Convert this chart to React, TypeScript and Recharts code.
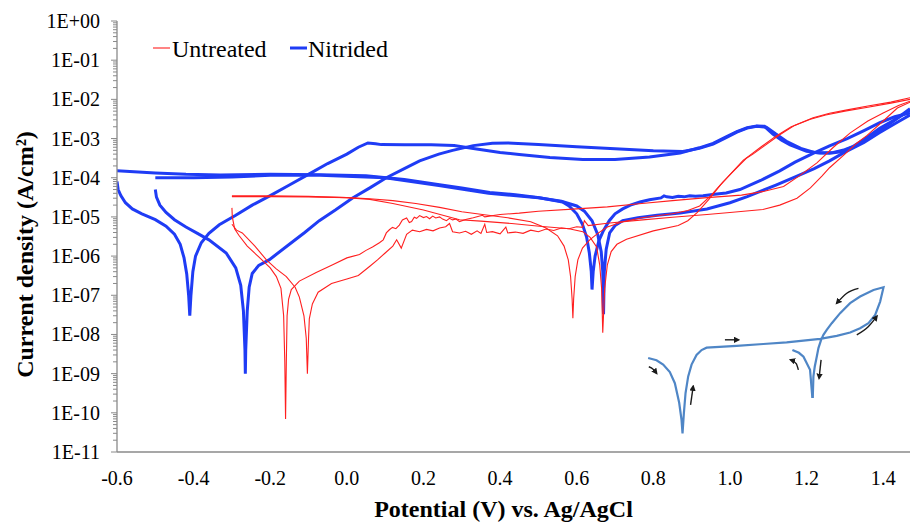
import { Label, Line, LineChart, XAxis, YAxis } from "recharts";

type P = [number, number];

const xTicks = [-0.6, -0.4, -0.2, 0.0, 0.2, 0.4, 0.6, 0.8, 1.0, 1.2, 1.4];
const yDecades = [1e-11, 1e-10, 1e-9, 1e-8, 1e-7, 1e-6, 1e-5, 1e-4, 1e-3, 1e-2, 1e-1, 1];
const yMinor = yDecades
  .slice(0, -1)
  .flatMap((d) => [2, 3, 4, 5, 6, 7, 8, 9].map((m) => m * d));
const yTicks = [...yDecades, ...yMinor].sort((a, b) => a - b);

// Nitrided, forward scans
const nitridedFwdA: P[] = [
  [-0.6, 8e-5], [-0.597, 5e-5], [-0.59, 3.5e-5], [-0.578, 2.3e-5], [-0.56, 1.6e-5],
  [-0.535, 1.2e-5], [-0.5, 8.5e-6], [-0.472, 5.8e-6], [-0.45, 3.6e-6], [-0.435, 2e-6],
  [-0.425, 9e-7], [-0.418, 3.5e-7], [-0.413, 1e-7], [-0.41, 3e-8], [-0.407, 1e-7],
  [-0.402, 4e-7], [-0.395, 1e-6], [-0.38, 2.2e-6], [-0.36, 3.8e-6], [-0.333, 6.3e-6],
  [-0.29, 1.1e-5], [-0.247, 2e-5], [-0.2, 3.5e-5], [-0.15, 6.5e-5], [-0.098, 1.25e-4],
  [-0.05, 2.3e-4], [0.0, 4e-4], [0.03, 6e-4], [0.055, 7.7e-4], [0.075, 7.4e-4],
  [0.09, 7e-4], [0.15, 6.9e-4], [0.22, 6.9e-4], [0.28, 6.6e-4], [0.33, 5.6e-4],
  [0.4, 4.4e-4], [0.45, 3.9e-4], [0.53, 3.3e-4], [0.616, 2.9e-4], [0.7, 2.9e-4],
  [0.79, 3.4e-4], [0.87, 4.3e-4], [0.92, 5.8e-4], [0.956, 7.5e-4], [0.99, 1.1e-3],
  [1.018, 1.5e-3], [1.045, 1.9e-3], [1.07, 2.1e-3], [1.09, 2.05e-3], [1.112, 1.3e-3],
  [1.135, 9e-4], [1.157, 6.9e-4], [1.2, 4.7e-4], [1.235, 4.3e-4], [1.27, 4.4e-4],
  [1.3, 5.2e-4], [1.32, 6.2e-4], [1.35, 9.5e-4], [1.39, 1.8e-3], [1.43, 3e-3], [1.47, 5.3e-3],
];
const nitridedFwdB: P[] = [
  [-0.5, 5e-5], [-0.497, 3.2e-5], [-0.488, 2e-5], [-0.472, 1.3e-5], [-0.45, 8.5e-6],
  [-0.42, 5.5e-6], [-0.39, 3.8e-6], [-0.36, 2.6e-6], [-0.315, 1.2e-6], [-0.29, 5e-7],
  [-0.277, 1.8e-7], [-0.27, 4e-8], [-0.266, 4e-9], [-0.265, 1e-9], [-0.264, 4e-9],
  [-0.26, 4e-8], [-0.255, 1.6e-7], [-0.247, 3.6e-7], [-0.23, 5.8e-7], [-0.203, 8e-7],
  [-0.15, 2e-6], [-0.11, 4e-6], [-0.072, 8e-6], [-0.03, 1.5e-5], [0.014, 3e-5],
  [0.06, 5.5e-5], [0.103, 1e-4], [0.15, 1.7e-4], [0.19, 2.7e-4], [0.24, 4e-4],
  [0.276, 5e-4], [0.33, 6.6e-4], [0.38, 7.6e-4], [0.42, 7.7e-4], [0.5, 7e-4],
  [0.6, 6.2e-4], [0.7, 5.5e-4], [0.8, 4.9e-4], [0.877, 4.7e-4], [0.92, 5.6e-4],
  [0.956, 7.2e-4], [0.99, 1.05e-3], [1.018, 1.45e-3], [1.045, 1.85e-3], [1.07, 2.05e-3],
  [1.095, 1.95e-3], [1.12, 1.3e-3], [1.15, 8.2e-4], [1.185, 5.6e-4], [1.22, 4.4e-4],
  [1.26, 4.2e-4], [1.29, 4.6e-4], [1.33, 6.6e-4], [1.37, 1.2e-3], [1.42, 2.5e-3], [1.47, 5.8e-3],
];

// Nitrided, reverse scans
const nitridedRevA: P[] = [
  [1.47, 4.5e-3], [1.43, 3.6e-3], [1.39, 2.5e-3], [1.35, 1.6e-3], [1.306, 1e-3],
  [1.26, 6.5e-4], [1.217, 4.2e-4], [1.17, 2.5e-4], [1.13, 1.5e-4], [1.08, 8.5e-5],
  [1.026, 5e-5], [0.99, 4.1e-5], [0.96, 3.8e-5], [0.93, 3.45e-5], [0.91, 3.35e-5],
  [0.895, 3.45e-5], [0.88, 3.25e-5], [0.865, 3.35e-5], [0.85, 3.15e-5], [0.835, 3.25e-5],
  [0.828, 3.45e-5], [0.82, 3.05e-5], [0.79, 2.75e-5], [0.765, 2.4e-5], [0.74, 2e-5],
  [0.72, 1.6e-5], [0.7, 1.2e-5], [0.685, 8e-6], [0.67, 4.5e-6], [0.658, 2.5e-6],
  [0.648, 1e-6], [0.643, 4e-7], [0.64, 1.4e-7], [0.638, 4e-7], [0.633, 1.2e-6],
  [0.626, 3e-6], [0.615, 6.5e-6], [0.6, 1.2e-5], [0.58, 1.9e-5], [0.563, 2.4e-5],
  [0.503, 3.1e-5], [0.44, 3.7e-5], [0.373, 4.2e-5], [0.3, 5.5e-5], [0.242, 6.6e-5],
  [0.15, 9e-5], [0.05, 1.12e-4], [-0.07, 1.2e-4], [-0.2, 1.22e-4], [-0.33, 1.18e-4],
  [-0.42, 1.22e-4], [-0.5, 1.32e-4], [-0.6, 1.5e-4],
];
const nitridedRevB: P[] = [
  [1.47, 4e-3], [1.437, 2.6e-3], [1.39, 1.4e-3], [1.35, 8e-4], [1.3, 4.5e-4],
  [1.26, 2.7e-4], [1.22, 1.7e-4], [1.175, 1.1e-4], [1.12, 6.5e-5], [1.045, 3.3e-5],
  [1.0, 2.3e-5], [0.94, 1.6e-5], [0.87, 1.25e-5], [0.81, 1.1e-5], [0.76, 9.5e-6],
  [0.72, 8e-6], [0.7, 6e-6], [0.686, 3.9e-6], [0.677, 1.5e-6], [0.672, 4e-7],
  [0.67, 3.3e-8], [0.668, 4e-7], [0.664, 1.3e-6], [0.655, 3.5e-6], [0.64, 8e-6],
  [0.62, 1.4e-5], [0.6, 1.9e-5], [0.56, 2.5e-5], [0.5, 3.1e-5], [0.37, 4e-5],
  [0.24, 6.3e-5], [0.1, 1e-4], [-0.07, 1.15e-4], [-0.2, 1.15e-4], [-0.3, 1.05e-4],
  [-0.4, 1e-4], [-0.5, 1e-4],
];

// Untreated, forward scans
const untreatedFwdA: P[] = [
  [-0.3, 1.7e-5], [-0.299, 1e-5], [-0.293, 5e-6], [-0.282, 3.4e-6], [-0.26, 1.8e-6],
  [-0.23, 9.5e-7], [-0.2, 5e-7], [-0.184, 3e-7], [-0.172, 1.5e-7], [-0.165, 3e-8],
  [-0.162, 2e-9], [-0.16, 7e-11], [-0.158, 2e-9], [-0.156, 3e-8], [-0.152, 8e-8],
  [-0.145, 1.4e-7], [-0.124, 2.3e-7], [-0.08, 3.8e-7], [-0.037, 6e-7], [0.0, 9e-7],
  [0.033, 1.1e-6], [0.05, 1.4e-6], [0.067, 1.7e-6], [0.085, 2.2e-6], [0.095, 2.6e-6],
  [0.103, 3.9e-6], [0.111, 4.7e-6], [0.119, 5.4e-6], [0.128, 5e-6], [0.137, 6.2e-6],
  [0.145, 8.4e-6], [0.156, 9.4e-6], [0.163, 7.2e-6], [0.169, 7.6e-6], [0.176, 9.8e-6],
  [0.182, 9.2e-6], [0.19, 1.08e-5], [0.2, 9.6e-6], [0.208, 1.02e-5], [0.216, 9e-6],
  [0.224, 1.05e-5], [0.232, 9.4e-6], [0.242, 1e-5], [0.25, 8.8e-6], [0.26, 8e-6],
  [0.268, 9.2e-6], [0.276, 8.4e-6], [0.285, 8.8e-6], [0.294, 7.6e-6], [0.31, 8.6e-6],
  [0.33, 9.5e-6], [0.354, 1.1e-5], [0.36, 1e-5], [0.4, 1.15e-5], [0.45, 1.25e-5],
  [0.5, 1.4e-5], [0.6, 1.6e-5], [0.68, 1.8e-5], [0.77, 2.2e-5], [0.85, 2.6e-5],
  [0.94, 3.1e-5], [1.03, 3.6e-5], [1.09, 4.5e-5], [1.14, 6e-5], [1.18, 1.1e-4],
  [1.227, 2.4e-4], [1.27, 6e-4], [1.314, 1.4e-3], [1.36, 2.8e-3], [1.4, 4.5e-3],
  [1.44, 7e-3], [1.47, 9e-3],
];
const untreatedFwdB: P[] = [
  [-0.3, 6.5e-6], [-0.288, 4.6e-6], [-0.273, 3.9e-6], [-0.24, 1.8e-6], [-0.21, 8e-7],
  [-0.185, 4.8e-7], [-0.158, 3e-7], [-0.135, 1.6e-7], [-0.124, 9e-8], [-0.112, 3e-8],
  [-0.106, 8e-9], [-0.103, 1e-9], [-0.1, 8e-9], [-0.098, 2.5e-8], [-0.09, 6e-8],
  [-0.075, 1.2e-7], [-0.04, 2e-7], [0.0, 2.6e-7], [0.03, 3.2e-7], [0.06, 5.5e-7],
  [0.08, 8e-7], [0.1, 1.2e-6], [0.12, 1.8e-6], [0.13, 2.6e-6], [0.142, 1.6e-6],
  [0.156, 3.6e-6], [0.171, 4.6e-6], [0.19, 4.2e-6], [0.208, 4.8e-6], [0.225, 4.4e-6],
  [0.242, 5.2e-6], [0.258, 5.6e-6], [0.268, 6.8e-6], [0.276, 4.2e-6], [0.294, 3.9e-6],
  [0.31, 4.3e-6], [0.325, 3.6e-6], [0.34, 4.4e-6], [0.35, 3.8e-6], [0.36, 6.5e-6],
  [0.365, 4e-6], [0.38, 4.2e-6], [0.4, 3.7e-6], [0.415, 5.5e-6], [0.42, 3.9e-6],
  [0.44, 4.1e-6], [0.46, 3.8e-6], [0.48, 4.6e-6], [0.5, 4.2e-6], [0.52, 4.9e-6],
  [0.54, 4.5e-6], [0.56, 5.2e-6], [0.58, 5e-6], [0.6, 5.6e-6], [0.615, 5.4e-6],
  [0.62, 8e-6], [0.63, 6e-6], [0.68, 6.9e-6], [0.765, 8.3e-6], [0.85, 9.8e-6],
  [0.94, 1.15e-5], [1.0, 1.3e-5], [1.086, 1.55e-5], [1.13, 2e-5], [1.175, 3e-5],
  [1.21, 5.5e-5], [1.24, 1.1e-4], [1.26, 1.8e-4], [1.3, 4e-4], [1.33, 7.5e-4],
  [1.358, 1.2e-3], [1.4, 2.8e-3], [1.437, 6e-3], [1.47, 8.5e-3],
];

// Untreated, reverse scans
const untreatedRevA: P[] = [
  [1.47, 1.1e-2], [1.42, 8.5e-3], [1.36, 6.8e-3], [1.306, 5.4e-3], [1.26, 4.4e-3],
  [1.217, 3.4e-3], [1.17, 2.2e-3], [1.13, 1.25e-3], [1.09, 6.5e-4], [1.06, 4e-4],
  [1.044, 3.2e-4], [1.01, 1.5e-4], [0.982, 7.8e-5], [0.95, 3.5e-5], [0.921, 1.9e-5],
  [0.89, 1.45e-5], [0.85, 1.2e-5], [0.77, 9.5e-6], [0.72, 7.5e-6], [0.68, 5.5e-6],
  [0.655, 3.8e-6], [0.634, 2.6e-6], [0.615, 1.6e-6], [0.603, 8e-7], [0.596, 3e-7],
  [0.592, 8e-8], [0.59, 2.6e-8], [0.588, 8e-8], [0.584, 3e-7], [0.578, 8e-7],
  [0.567, 1.8e-6], [0.55, 3.3e-6], [0.52, 5.2e-6], [0.48, 7.5e-6], [0.42, 9.5e-6],
  [0.354, 1.15e-5], [0.3, 1.35e-5], [0.242, 1.75e-5], [0.18, 2.2e-5], [0.12, 2.6e-5],
  [0.06, 2.9e-5], [0.0, 3.1e-5], [-0.1, 3.25e-5], [-0.2, 3.3e-5], [-0.3, 3.3e-5],
];
const untreatedRevB: P[] = [
  [1.47, 1e-2], [1.42, 8e-3], [1.36, 6.3e-3], [1.3, 5e-3], [1.25, 4e-3],
  [1.21, 3.1e-3], [1.16, 2e-3], [1.12, 1.15e-3], [1.08, 6e-4], [1.05, 3.6e-4],
  [1.035, 2.8e-4], [1.0, 1.2e-4], [0.975, 6.5e-5], [0.945, 2.8e-5], [0.915, 1.3e-5],
  [0.89, 8e-6], [0.865, 6e-6], [0.8, 4.4e-6], [0.73, 2.7e-6], [0.705, 2e-6],
  [0.69, 1.3e-6], [0.68, 6e-7], [0.673, 1.5e-7], [0.668, 1.1e-8], [0.665, 1.5e-7],
  [0.66, 6e-7], [0.652, 1.7e-6], [0.635, 3e-6], [0.616, 4.2e-6], [0.58, 5e-6],
  [0.503, 5.8e-6], [0.43, 6.8e-6], [0.35, 7.8e-6], [0.294, 8.5e-6], [0.2, 1.5e-5],
  [0.12, 2.2e-5], [0.06, 2.8e-5], [0.0, 3.1e-5], [-0.1, 3.35e-5], [-0.2, 3.45e-5],
  [-0.3, 3.45e-5],
];

// Inset sketch of a cyclic scan, drawn in the same axes
const insetMain: P[] = [
  [0.7865, 2.5e-9], [0.8083, 2.2e-9], [0.8257, 1.7e-9], [0.8431, 1.1e-9], [0.8562, 5.7e-10],
  [0.8675, 1.8e-10], [0.8736, 6.6e-11], [0.8762, 3e-11], [0.8797, 9.7e-11], [0.8841, 3.2e-10],
  [0.891, 8.5e-10], [0.8998, 1.7e-9], [0.9128, 3e-9], [0.9259, 4e-9], [0.939, 4.6e-9],
  [1.0174, 5.1e-9], [1.0871, 5.7e-9], [1.148, 6.3e-9], [1.2353, 7.7e-9], [1.2788, 9.2e-9],
  [1.3137, 1.12e-8], [1.3398, 1.44e-8], [1.3616, 1.94e-8], [1.3791, 3.16e-8], [1.3921, 6.9e-8],
  [1.4009, 1.6e-7], [1.3747, 1.37e-7], [1.3398, 9.3e-8], [1.3137, 6.3e-8], [1.2876, 3.5e-8],
  [1.2658, 1.94e-8], [1.2527, 1.31e-8], [1.244, 9.8e-9], [1.238, 7.3e-9], [1.231, 4.5e-9],
  [1.2266, 2.7e-9], [1.2213, 1.5e-9], [1.2179, 8.5e-10], [1.2161, 2.4e-10],
];
const insetSecond: P[] = [
  [1.163, 4e-9], [1.18, 3.4e-9], [1.192, 2.7e-9], [1.2091, 1.25e-9], [1.2152, 2.4e-10],
];
const insetArrows: P[][] = [
  [[0.7882, 1.5e-9], [0.7995, 1.3e-9], [0.8083, 1.03e-9]],
  [[0.8972, 1.6e-10], [0.904, 4.7e-10]],
  [[0.9869, 7.3e-9], [1.0218, 7.3e-9]],
  [[1.1786, 1.25e-9], [1.173, 1.8e-9], [1.1586, 2.25e-9]],
  [[1.2379, 2.25e-9], [1.2327, 7.7e-10]],
  [[1.3355, 1.5e-7], [1.305, 1.13e-7], [1.2789, 6.3e-8]],
  [[1.3311, 9.8e-9], [1.3616, 1.6e-8], [1.3834, 2.9e-8]],
];

const toRows = (pts: P[]) => pts.map(([x, y]) => ({ x, y }));

const RED = "#ff1f1f";
const BLUE = "#1f3cf5";
const INSET = "#4f86c6";
const AXIS = "#8a8a8a";
const FONT = "'Liberation Serif', 'Times New Roman', serif";

const isDecade = (v: number) => {
  const l = Math.log10(v);
  return Math.abs(l - Math.round(l)) < 1e-6;
};

const fmtExp = (v: number) => {
  const e = Math.round(Math.log10(v));
  return "1E" + (e < 0 ? "-" : "+") + String(Math.abs(e)).padStart(2, "0");
};

const YTick = (props: any) => {
  const { x, y, payload } = props;
  const major = isDecade(payload.value);
  return (
    <g>
      <line x1={x - (major ? 6 : 4)} x2={x} y1={y} y2={y} stroke={AXIS} strokeWidth={1} />
      {major && (
        <text x={x - 17} y={y} dy="0.35em" textAnchor="end" fontSize={20} fontFamily={FONT} fill="#000">
          {fmtExp(payload.value)}
        </text>
      )}
    </g>
  );
};

const XTick = (props: any) => {
  const { x, y, payload } = props;
  return (
    <text x={x} y={y + 33} textAnchor="middle" fontSize={20} fontFamily={FONT} fill="#000">
      {Number(payload.value).toFixed(1)}
    </text>
  );
};

const series: { pts: P[]; color: string; width: number }[] = [
  { pts: nitridedFwdA, color: BLUE, width: 3 },
  { pts: nitridedFwdB, color: BLUE, width: 3 },
  { pts: nitridedRevA, color: BLUE, width: 3 },
  { pts: nitridedRevB, color: BLUE, width: 3 },
  { pts: untreatedFwdA, color: RED, width: 1.1 },
  { pts: untreatedFwdB, color: RED, width: 1.1 },
  { pts: untreatedRevA, color: RED, width: 1.1 },
  { pts: untreatedRevB, color: RED, width: 1.1 },
  { pts: insetMain, color: INSET, width: 2.2 },
  { pts: insetSecond, color: INSET, width: 2.2 },
];

export default function App() {
  return (
    <div
      style={{
        position: "absolute",
        left: 0,
        top: 0,
        width: 910,
        height: 522,
        background: "#fff",
        overflow: "hidden",
        fontFamily: FONT,
      }}
    >
      <LineChart width={910} height={522} margin={{ top: 21, right: 0, bottom: 0, left: 0 }}>
        <defs>
          <marker
            id="arrowHead"
            viewBox="0 0 10 10"
            refX="7"
            refY="5"
            markerWidth="4.5"
            markerHeight="4.5"
            orient="auto"
          >
            <path d="M0,0 L10,5 L0,10 z" fill="#1a1a1a" />
          </marker>
        </defs>

        <XAxis
          type="number"
          dataKey="x"
          domain={[-0.6, 1.47]}
          allowDataOverflow
          ticks={xTicks}
          interval={0}
          tickLine={false}
          tickSize={0}
          tickMargin={0}
          tick={XTick}
          axisLine={{ stroke: AXIS, strokeWidth: 1.3 }}
          height={70}
        >
          <Label
            content={(p: any) => {
              const vb = p.viewBox;
              return (
                <text
                  x={vb.x + vb.width / 2 - 10}
                  y={vb.y + 65}
                  textAnchor="middle"
                  fontSize={24}
                  fontWeight="bold"
                  fontFamily={FONT}
                  fill="#000"
                >
                  Potential (V) vs. Ag/AgCl
                </text>
              );
            }}
          />
        </XAxis>

        <YAxis
          type="number"
          scale="log"
          domain={[1e-11, 1]}
          allowDataOverflow
          ticks={yTicks}
          interval={0}
          tickLine={false}
          tickSize={0}
          tickMargin={0}
          tick={YTick}
          axisLine={{ stroke: AXIS, strokeWidth: 1.3 }}
          width={117}
        >
          <Label
            content={(p: any) => {
              const vb = p.viewBox;
              const cx = vb.x + 33;
              const cy = vb.y + vb.height / 2 + 18;
              return (
                <text
                  x={cx}
                  y={cy}
                  transform={`rotate(-90 ${cx} ${cy})`}
                  textAnchor="middle"
                  fontSize={24}
                  fontWeight="bold"
                  fontFamily={FONT}
                  fill="#000"
                >
                  Current density (A/cm²)
                </text>
              );
            }}
          />
        </YAxis>

        {series.map((s, i) => (
          <Line
            key={`s${i}`}
            data={toRows(s.pts)}
            dataKey="y"
            type="linear"
            stroke={s.color}
            strokeWidth={s.width}
            dot={false}
            activeDot={false}
            isAnimationActive={false}
          />
        ))}

        {insetArrows.map((a, i) => (
          <Line
            key={`a${i}`}
            data={toRows(a)}
            dataKey="y"
            type="monotone"
            stroke="#1a1a1a"
            strokeWidth={1.4}
            markerEnd="url(#arrowHead)"
            dot={false}
            activeDot={false}
            isAnimationActive={false}
          />
        ))}
      </LineChart>

      <svg width={260} height={40} style={{ position: "absolute", left: 145, top: 30 }}>
        <line x1={8} x2={25} y1={18} y2={18} stroke={RED} strokeWidth={1.1} />
        <text x={27} y={27} fontSize={24} fontFamily={FONT} fill="#000">
          Untreated
        </text>
        <line x1={145} x2={162} y1={18} y2={18} stroke={BLUE} strokeWidth={3} />
        <text x={163} y={27} fontSize={24} fontFamily={FONT} fill="#000">
          Nitrided
        </text>
      </svg>
    </div>
  );
}
